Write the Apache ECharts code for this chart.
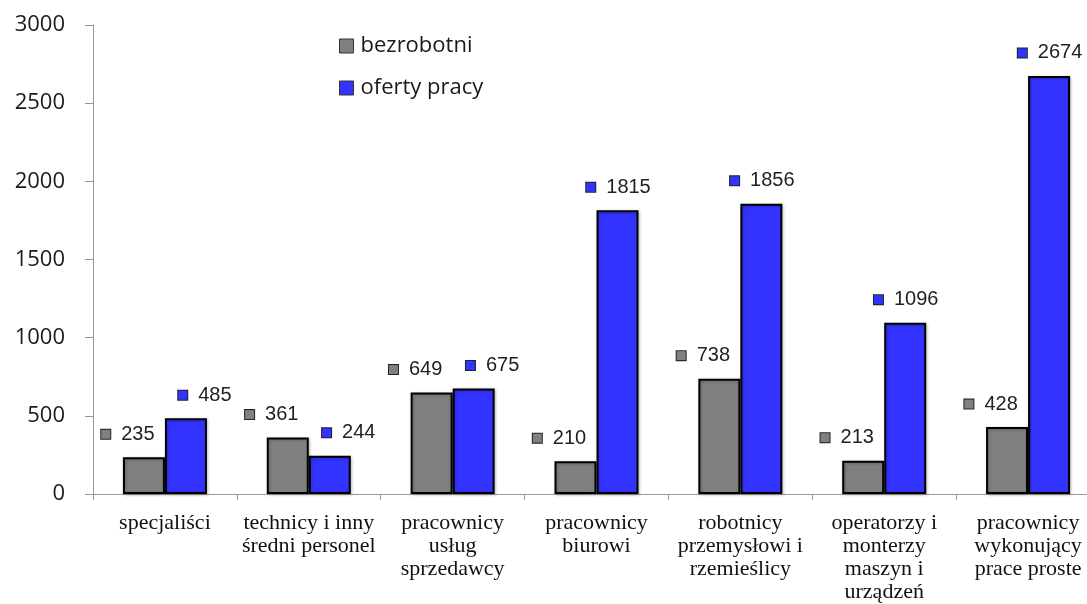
<!DOCTYPE html>
<html>
<head>
<meta charset="utf-8">
<script src="https://cdn.jsdelivr.net/npm/echarts@6/dist/echarts.min.js"></script>
<style>
html,body{margin:0;padding:0;background:#fff;}
#chart{width:1087px;height:604px;}
</style>
</head>
<body>
<div id="chart"></div>
<script>
var categories = [
  'specjaliści',
  'technicy i inny\nśredni personel',
  'pracownicy\nusług\nsprzedawcy',
  'pracownicy\nbiurowi',
  'robotnicy\nprzemysłowi i\nrzemieślicy',
  'operatorzy i\nmonterzy\nmaszyn i\nurządzeń',
  'pracownicy\nwykonujący\nprace proste'
];
var bezrobotni = [235, 361, 649, 210, 738, 213, 428];
var ofertyPracy = [485, 244, 675, 1815, 1856, 1096, 2674];
var yTicks = [0, 500, 1000, 1500, 2000, 2500, 3000];

var GRAY = '#808080';
var BLUE = '#3333ff';

function makeLabel(color) {
  return {
    show: true,
    position: 'top',
    distance: 12,
    formatter: function (p) { return '{m|}{v|' + p.value + '}'; },
    rich: {
      m: { width: 9, height: 9, backgroundColor: color, borderColor: '#222', borderWidth: 1 },
      v: { fontFamily: 'Liberation Sans, Arial, sans-serif', fontSize: 20, color: '#222', padding: [0, 0, 0, 11], lineHeight: 22 }
    }
  };
}

function items(values, isBlue) {
  return values.map(function (v) {
    var dx = isBlue ? (v >= 1000 ? 1 : 19) : -16;
    return { value: v, label: { offset: [dx, 0] } };
  });
}

var chart = echarts.init(document.getElementById('chart'));
chart.setOption({
  animation: false,
  backgroundColor: '#fff',
  grid: { left: 93, top: 25, width: 1007, height: 469, containLabel: false, outerBoundsMode: 'none' },
  legend: {
    orient: 'vertical',
    left: 334,
    top: 29,
    itemWidth: 14,
    itemHeight: 14,
    itemGap: 18,
    icon: 'rect',
    itemStyle: { borderColor: '#333', borderWidth: 1 },
    textStyle: { fontFamily: 'Open Sans, sans-serif', fontSize: 22, color: '#1a1a1a', lineHeight: 24, padding: [0, 0, 0, 2] },
    data: ['bezrobotni', 'oferty pracy']
  },
  xAxis: {
    type: 'category',
    data: categories,
    axisLine: { lineStyle: { color: '#999', width: 1 } },
    axisTick: { show: true, length: 6, alignWithLabel: false, lineStyle: { color: '#999' } },
    axisLabel: {
      interval: 0,
      margin: 18,
      fontFamily: 'Liberation Serif, Times New Roman, serif',
      fontSize: 22,
      lineHeight: 23,
      color: '#111'
    },
    splitLine: { show: false }
  },
  yAxis: {
    type: 'value',
    min: yTicks[0],
    max: yTicks[yTicks.length - 1],
    interval: 500,
    axisLine: { show: true, lineStyle: { color: '#999', width: 1 } },
    axisTick: { show: true, length: 8, lineStyle: { color: '#999' } },
    axisLabel: {
      margin: 28,
      fontFamily: 'Open Sans, sans-serif',
      fontSize: 22,
      color: '#1a1a1a',
      formatter: function (v) { return String(v); }
    },
    splitLine: { show: false }
  },
  series: [
    {
      name: 'bezrobotni',
      type: 'bar',
      data: items(bezrobotni, false),
      barWidth: 42,
      barGap: '0%',
      itemStyle: { color: GRAY, borderColor: '#000', borderWidth: 2, shadowColor: 'rgba(0,0,0,0.25)', shadowBlur: 3, shadowOffsetX: 1, shadowOffsetY: 1 },
      label: makeLabel(GRAY)
    },
    {
      name: 'oferty pracy',
      type: 'bar',
      data: items(ofertyPracy, true),
      barWidth: 42,
      barGap: '0%',
      itemStyle: { color: BLUE, borderColor: '#000', borderWidth: 2, shadowColor: 'rgba(0,0,0,0.25)', shadowBlur: 3, shadowOffsetX: 1, shadowOffsetY: 1 },
      label: makeLabel(BLUE)
    }
  ]
});
</script>
</body>
</html>
